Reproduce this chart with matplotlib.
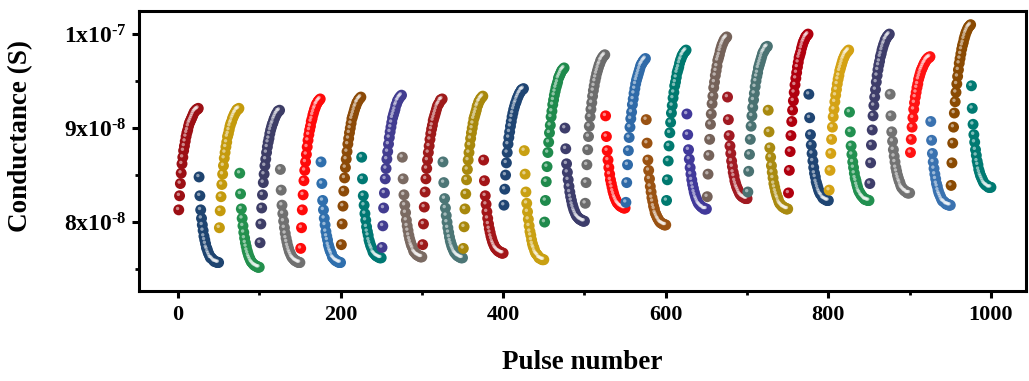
import numpy as np
import matplotlib
matplotlib.use("Agg")
import matplotlib.pyplot as plt
from matplotlib.ticker import MultipleLocator, FixedLocator
from matplotlib.transforms import offset_copy

plt.rcParams['font.family'] = ['Liberation Serif', 'DejaVu Serif']
plt.rcParams['font.weight'] = 'bold'
plt.rcParams['mathtext.fontset'] = 'custom'
plt.rcParams['mathtext.rm'] = 'Liberation Serif:bold'
plt.rcParams['mathtext.it'] = 'Liberation Serif:bold'
plt.rcParams['mathtext.bf'] = 'Liberation Serif:bold'

# conductance in units of 1e-8 S, 25 pulses potentiation + 25 pulses depression per cycle
pot_vals = [
    [8.13, 8.28, 8.41, 8.52, 8.62, 8.69, 8.76, 8.81, 8.86, 8.91, 8.95, 8.98, 9.02, 9.05, 9.07, 9.09, 9.11, 9.13, 9.15, 9.17, 9.18, 9.19, 9.20, 9.20, 9.21],
    [7.94, 8.12, 8.27, 8.40, 8.51, 8.60, 8.68, 8.74, 8.80, 8.85, 8.91, 8.94, 8.98, 9.02, 9.05, 9.07, 9.10, 9.12, 9.14, 9.16, 9.17, 9.19, 9.20, 9.20, 9.21],
    [7.78, 7.98, 8.15, 8.29, 8.42, 8.51, 8.60, 8.67, 8.74, 8.80, 8.85, 8.89, 8.94, 8.98, 9.01, 9.04, 9.06, 9.09, 9.11, 9.13, 9.15, 9.16, 9.18, 9.18, 9.19],
    [7.72, 7.94, 8.13, 8.29, 8.44, 8.55, 8.64, 8.72, 8.80, 8.87, 8.93, 8.98, 9.02, 9.07, 9.10, 9.14, 9.17, 9.20, 9.22, 9.25, 9.26, 9.28, 9.29, 9.30, 9.31],
    [7.76, 7.98, 8.17, 8.33, 8.47, 8.58, 8.67, 8.75, 8.83, 8.89, 8.95, 9.00, 9.05, 9.10, 9.13, 9.16, 9.19, 9.22, 9.24, 9.27, 9.28, 9.30, 9.31, 9.32, 9.33],
    [7.73, 7.96, 8.15, 8.31, 8.46, 8.57, 8.67, 8.75, 8.83, 8.90, 8.96, 9.01, 9.06, 9.11, 9.14, 9.17, 9.20, 9.24, 9.26, 9.29, 9.30, 9.32, 9.33, 9.34, 9.35],
    [7.76, 7.98, 8.16, 8.32, 8.46, 8.57, 8.66, 8.74, 8.81, 8.88, 8.94, 8.99, 9.03, 9.08, 9.11, 9.14, 9.17, 9.20, 9.23, 9.25, 9.26, 9.28, 9.30, 9.30, 9.31],
    [7.72, 7.95, 8.14, 8.30, 8.45, 8.56, 8.66, 8.74, 8.82, 8.89, 8.95, 9.00, 9.05, 9.10, 9.13, 9.16, 9.19, 9.23, 9.25, 9.28, 9.29, 9.31, 9.32, 9.33, 9.34],
    [8.18, 8.35, 8.50, 8.63, 8.74, 8.83, 8.90, 8.96, 9.02, 9.07, 9.12, 9.16, 9.20, 9.23, 9.26, 9.28, 9.31, 9.33, 9.35, 9.37, 9.38, 9.40, 9.41, 9.41, 9.42],
    [8.00, 8.23, 8.43, 8.59, 8.74, 8.85, 8.95, 9.03, 9.12, 9.18, 9.25, 9.30, 9.35, 9.39, 9.43, 9.46, 9.49, 9.53, 9.55, 9.57, 9.59, 9.61, 9.62, 9.63, 9.64],
    [8.20, 8.42, 8.61, 8.77, 8.91, 9.02, 9.12, 9.20, 9.27, 9.34, 9.40, 9.45, 9.50, 9.54, 9.58, 9.61, 9.64, 9.67, 9.69, 9.72, 9.73, 9.75, 9.76, 9.77, 9.78],
    [8.21, 8.42, 8.61, 8.76, 8.90, 9.01, 9.10, 9.17, 9.25, 9.31, 9.37, 9.42, 9.47, 9.51, 9.54, 9.57, 9.60, 9.63, 9.66, 9.68, 9.69, 9.71, 9.72, 9.73, 9.74],
    [8.23, 8.45, 8.65, 8.81, 8.95, 9.06, 9.16, 9.24, 9.32, 9.38, 9.45, 9.49, 9.54, 9.59, 9.62, 9.65, 9.69, 9.72, 9.74, 9.77, 9.78, 9.80, 9.81, 9.82, 9.83],
    [8.27, 8.51, 8.71, 8.88, 9.04, 9.15, 9.26, 9.34, 9.43, 9.49, 9.56, 9.61, 9.66, 9.72, 9.75, 9.78, 9.82, 9.85, 9.88, 9.90, 9.92, 9.94, 9.95, 9.96, 9.97],
    [8.32, 8.54, 8.72, 8.88, 9.02, 9.13, 9.22, 9.30, 9.37, 9.44, 9.50, 9.55, 9.59, 9.64, 9.67, 9.70, 9.73, 9.76, 9.79, 9.81, 9.82, 9.84, 9.86, 9.86, 9.87],
    [8.31, 8.55, 8.75, 8.92, 9.07, 9.19, 9.29, 9.38, 9.46, 9.53, 9.59, 9.65, 9.70, 9.75, 9.78, 9.81, 9.85, 9.88, 9.91, 9.93, 9.95, 9.97, 9.98, 9.99, 10.00],
    [8.34, 8.55, 8.73, 8.88, 9.01, 9.12, 9.20, 9.28, 9.35, 9.41, 9.47, 9.52, 9.56, 9.61, 9.64, 9.67, 9.70, 9.73, 9.75, 9.77, 9.79, 9.80, 9.81, 9.82, 9.83],
    [8.41, 8.63, 8.82, 8.98, 9.13, 9.24, 9.33, 9.41, 9.49, 9.56, 9.62, 9.67, 9.71, 9.76, 9.79, 9.83, 9.86, 9.89, 9.91, 9.94, 9.95, 9.97, 9.98, 9.99, 10.00],
    [8.74, 8.88, 9.01, 9.11, 9.20, 9.27, 9.33, 9.38, 9.43, 9.47, 9.52, 9.55, 9.58, 9.61, 9.63, 9.65, 9.67, 9.69, 9.70, 9.72, 9.73, 9.74, 9.75, 9.75, 9.76],
    [8.39, 8.63, 8.84, 9.01, 9.16, 9.28, 9.38, 9.47, 9.55, 9.62, 9.69, 9.74, 9.79, 9.84, 9.88, 9.91, 9.95, 9.98, 10.01, 10.03, 10.05, 10.07, 10.08, 10.09, 10.10],
]

dep_vals = [
    [8.48, 8.28, 8.13, 8.04, 7.97, 7.91, 7.85, 7.81, 7.77, 7.73, 7.71, 7.68, 7.66, 7.64, 7.62, 7.62, 7.61, 7.60, 7.59, 7.58, 7.58, 7.58, 7.57, 7.57, 7.57],
    [8.52, 8.30, 8.14, 8.04, 7.96, 7.89, 7.83, 7.78, 7.74, 7.70, 7.67, 7.64, 7.62, 7.60, 7.58, 7.57, 7.56, 7.55, 7.54, 7.54, 7.53, 7.53, 7.52, 7.52, 7.52],
    [8.56, 8.34, 8.18, 8.09, 8.01, 7.94, 7.88, 7.83, 7.79, 7.75, 7.72, 7.69, 7.67, 7.65, 7.63, 7.62, 7.61, 7.60, 7.59, 7.59, 7.58, 7.58, 7.57, 7.57, 7.57],
    [8.64, 8.41, 8.23, 8.13, 8.04, 7.97, 7.90, 7.85, 7.81, 7.76, 7.73, 7.70, 7.68, 7.66, 7.63, 7.62, 7.61, 7.60, 7.59, 7.59, 7.58, 7.58, 7.57, 7.57, 7.57],
    [8.69, 8.46, 8.28, 8.18, 8.09, 8.02, 7.95, 7.90, 7.86, 7.81, 7.78, 7.75, 7.73, 7.71, 7.68, 7.67, 7.66, 7.65, 7.64, 7.64, 7.63, 7.63, 7.62, 7.62, 7.62],
    [8.69, 8.46, 8.29, 8.18, 8.10, 8.02, 7.96, 7.91, 7.86, 7.82, 7.79, 7.76, 7.74, 7.72, 7.69, 7.68, 7.67, 7.66, 7.65, 7.65, 7.64, 7.64, 7.63, 7.63, 7.63],
    [8.64, 8.42, 8.25, 8.15, 8.07, 8.00, 7.94, 7.89, 7.84, 7.80, 7.77, 7.74, 7.72, 7.70, 7.68, 7.67, 7.66, 7.65, 7.64, 7.64, 7.63, 7.63, 7.62, 7.62, 7.62],
    [8.66, 8.44, 8.28, 8.19, 8.11, 8.04, 7.98, 7.93, 7.89, 7.85, 7.82, 7.79, 7.77, 7.75, 7.73, 7.72, 7.71, 7.70, 7.69, 7.69, 7.68, 7.68, 7.67, 7.67, 7.67],
    [8.76, 8.51, 8.32, 8.20, 8.11, 8.03, 7.96, 7.90, 7.86, 7.81, 7.77, 7.74, 7.72, 7.69, 7.67, 7.66, 7.65, 7.64, 7.62, 7.62, 7.61, 7.61, 7.60, 7.60, 7.60],
    [9.00, 8.78, 8.62, 8.53, 8.45, 8.38, 8.32, 8.27, 8.23, 8.19, 8.16, 8.13, 8.11, 8.09, 8.07, 8.06, 8.05, 8.04, 8.03, 8.03, 8.02, 8.02, 8.01, 8.01, 8.01],
    [9.13, 8.91, 8.76, 8.66, 8.58, 8.51, 8.45, 8.41, 8.37, 8.33, 8.30, 8.27, 8.25, 8.23, 8.21, 8.20, 8.19, 8.18, 8.17, 8.17, 8.16, 8.16, 8.15, 8.15, 8.15],
    [9.09, 8.84, 8.66, 8.55, 8.46, 8.38, 8.32, 8.26, 8.22, 8.17, 8.14, 8.10, 8.08, 8.06, 8.04, 8.03, 8.01, 8.00, 7.99, 7.99, 7.98, 7.98, 7.97, 7.97, 7.97],
    [9.15, 8.93, 8.77, 8.67, 8.58, 8.51, 8.45, 8.40, 8.36, 8.32, 8.29, 8.26, 8.24, 8.22, 8.20, 8.19, 8.18, 8.17, 8.16, 8.16, 8.15, 8.14, 8.14, 8.14, 8.14],
    [9.33, 9.09, 8.92, 8.81, 8.73, 8.65, 8.59, 8.53, 8.49, 8.44, 8.41, 8.38, 8.36, 8.34, 8.32, 8.30, 8.29, 8.28, 8.27, 8.27, 8.26, 8.26, 8.25, 8.25, 8.25],
    [9.19, 8.96, 8.79, 8.69, 8.60, 8.53, 8.47, 8.41, 8.37, 8.33, 8.30, 8.27, 8.25, 8.22, 8.20, 8.19, 8.18, 8.17, 8.16, 8.16, 8.15, 8.15, 8.14, 8.14, 8.14],
    [9.36, 9.11, 8.93, 8.82, 8.73, 8.65, 8.58, 8.52, 8.48, 8.43, 8.40, 8.37, 8.34, 8.32, 8.30, 8.29, 8.28, 8.26, 8.25, 8.25, 8.24, 8.24, 8.23, 8.23, 8.23],
    [9.17, 8.96, 8.81, 8.72, 8.64, 8.58, 8.52, 8.47, 8.44, 8.40, 8.37, 8.34, 8.32, 8.31, 8.29, 8.28, 8.27, 8.26, 8.25, 8.24, 8.24, 8.24, 8.23, 8.23, 8.23],
    [9.36, 9.13, 8.96, 8.86, 8.77, 8.70, 8.64, 8.58, 8.54, 8.50, 8.47, 8.44, 8.42, 8.39, 8.37, 8.36, 8.35, 8.34, 8.33, 8.33, 8.32, 8.31, 8.31, 8.31, 8.31],
    [9.07, 8.87, 8.73, 8.64, 8.57, 8.51, 8.46, 8.41, 8.38, 8.34, 8.31, 8.29, 8.27, 8.25, 8.23, 8.22, 8.22, 8.21, 8.20, 8.19, 8.19, 8.19, 8.18, 8.18, 8.18],
    [9.45, 9.21, 9.04, 8.93, 8.85, 8.77, 8.71, 8.65, 8.61, 8.56, 8.53, 8.50, 8.48, 8.46, 8.44, 8.42, 8.41, 8.40, 8.39, 8.39, 8.38, 8.37, 8.37, 8.37, 8.37],
]

pot_colors = ['#9c0f14', '#c49a0c', '#3d3d66', '#ff0a0a', '#8c4a08', '#423c90',
              '#9e1a1a', '#a8880c', '#1f4573', '#1f8a4c', '#6c6c6c', '#2f6aa8',
              '#00796f', '#756259', '#4a7272', '#b0000e', '#d4a214', '#3e3d6a',
              '#ff1212', '#8a4a02']
dep_colors = ['#1e4470', '#23904d', '#707070', '#2f6fad', '#007873', '#7a6a62',
              '#4c7676', '#a31518', '#c9a012', '#3d3d6b', '#ff0a0a', '#9a5212',
              '#41399a', '#a11a22', '#a98a10', '#1f4573', '#229050', '#727272',
              '#3a72b0', '#007a72']

y_ticklabels = [r'8x10$^{\text{-8}}$', r'9x10$^{\text{-8}}$', r'1x10$^{\text{-7}}$']

seg_len = 25
pulses = np.arange(1, 1001)

fig = plt.figure(figsize=(10.29, 3.81), dpi=100)
ax = fig.add_axes([0.135, 0.236, 0.862, 0.735])

hl = offset_copy(ax.transData, fig=fig, x=-1.2, y=1.4, units='dots')

for k in range(len(pot_vals)):
    x0 = 2 * k * seg_len
    for vals, col, start in ((pot_vals[k], pot_colors[k], x0),
                             (dep_vals[k], dep_colors[k], x0 + seg_len)):
        xs = pulses[start:start + seg_len]
        ys = np.array(vals) * 1e-8
        ax.scatter(xs, ys, s=62, c=col, edgecolors='none', zorder=2)
        ax.scatter(xs, ys, s=6, c='white', alpha=0.5, edgecolors='none',
                   transform=hl, zorder=2)

ax.set_xlim(-48, 1043)
ax.set_ylim(7.266e-8, 1.0245e-7)

ax.xaxis.set_major_locator(MultipleLocator(200))
ax.xaxis.set_minor_locator(MultipleLocator(100))
ax.yaxis.set_major_locator(FixedLocator([8e-8, 9e-8, 1e-7]))
ax.yaxis.set_minor_locator(FixedLocator([7.5e-8, 8.5e-8, 9.5e-8]))
ax.set_yticklabels(y_ticklabels)

for sp in ax.spines.values():
    sp.set_linewidth(2.2)
ax.tick_params(which='major', direction='out', length=5, width=2.2,
               labelsize=16, pad=5)
ax.tick_params(axis='y', which='major', labelsize=17, pad=4)
ax.tick_params(which='minor', direction='out', length=3, width=2.0)
ax.tick_params(top=False, right=False, which='both')

ax.set_xlabel('Pulse number', fontsize=19.5, fontweight='bold')
ax.set_ylabel('Conductance (S)', fontsize=19.5, fontweight='bold')
ax.xaxis.set_label_coords(0.5, -0.212)
ax.yaxis.set_label_coords(-0.119, 0.555)

fig.savefig('out.png', dpi=100)
